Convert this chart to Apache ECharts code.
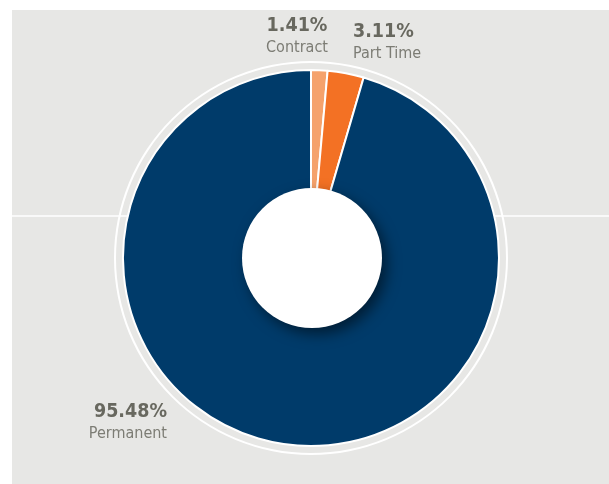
<!DOCTYPE html>
<html>
<head>
<meta charset="utf-8">
<script src="https://cdn.jsdelivr.net/npm/echarts@6/dist/echarts.min.js"></script>
<style>
html,body{margin:0;padding:0;background:#ffffff;}
#chart{width:609px;height:484px;}
</style>
</head>
<body>
<div id="chart"></div>
<script>
var categories = ['Contract', 'Part Time', 'Permanent'];
var values = [1.41, 3.11, 95.48];
var sliceColors = ['#f5a26c', '#f37124', '#003b6a'];

var FONT = '"Liberation Sans Narrow", "DejaVu Sans Condensed", "Roboto", sans-serif';
var chart = echarts.init(document.getElementById('chart'), null, {renderer: 'canvas'});

var labelPos = [
  {x: 297, y: 37, align: 'center'},
  {x: 353, y: 43, align: 'left'},
  {x: 167, y: 423, align: 'right'}
];

chart.setOption({
  animation: false,
  backgroundColor: '#ffffff',
  graphic: [
    {type: 'rect', z: -10, shape: {x: 12, y: 10, width: 600, height: 480}, style: {fill: '#e7e7e5'}},
    {type: 'line', z: -9, shape: {x1: 12, y1: 216, x2: 609, y2: 216}, style: {stroke: '#ffffff', lineWidth: 1.5}},
    {type: 'ring', z: -8, shape: {cx: 311, cy: 258, r: 197, r0: 195}, style: {fill: '#ffffff'}},
    {type: 'circle', z: 100, shape: {cx: 312, cy: 258, r: 70}, style: {fill: '#ffffff', shadowBlur: 14, shadowOffsetX: 5, shadowOffsetY: 6, shadowColor: 'rgba(0,0,0,0.5)'}}
  ],
  series: [{
    type: 'pie',
    center: [311, 258],
    radius: [0, 188],
    startAngle: 90,
    clockwise: true,
    silent: true,
    avoidLabelOverlap: false,
    itemStyle: {borderColor: '#ffffff', borderWidth: 2},
    data: categories.map(function (c, i) {
      return {name: c, value: values[i], itemStyle: {color: sliceColors[i]}};
    }),
    labelLine: {show: false},
    label: {
      show: true,
      position: 'outside',
      formatter: function (p) { return '{v|' + p.value.toFixed(2) + '%}\n{n|' + p.name + '}'; },
      rich: {
        v: {fontFamily: FONT, fontSize: 19.5, fontWeight: 'bold', color: '#68685f', lineHeight: 22},
        n: {fontFamily: FONT, fontSize: 16, color: '#7c7c74', lineHeight: 22}
      }
    },
    labelLayout: function (params) {
      var p = labelPos[params.dataIndex];
      return {x: p.x, y: p.y, align: p.align, verticalAlign: 'middle'};
    }
  }]
});
</script>
</body>
</html>
